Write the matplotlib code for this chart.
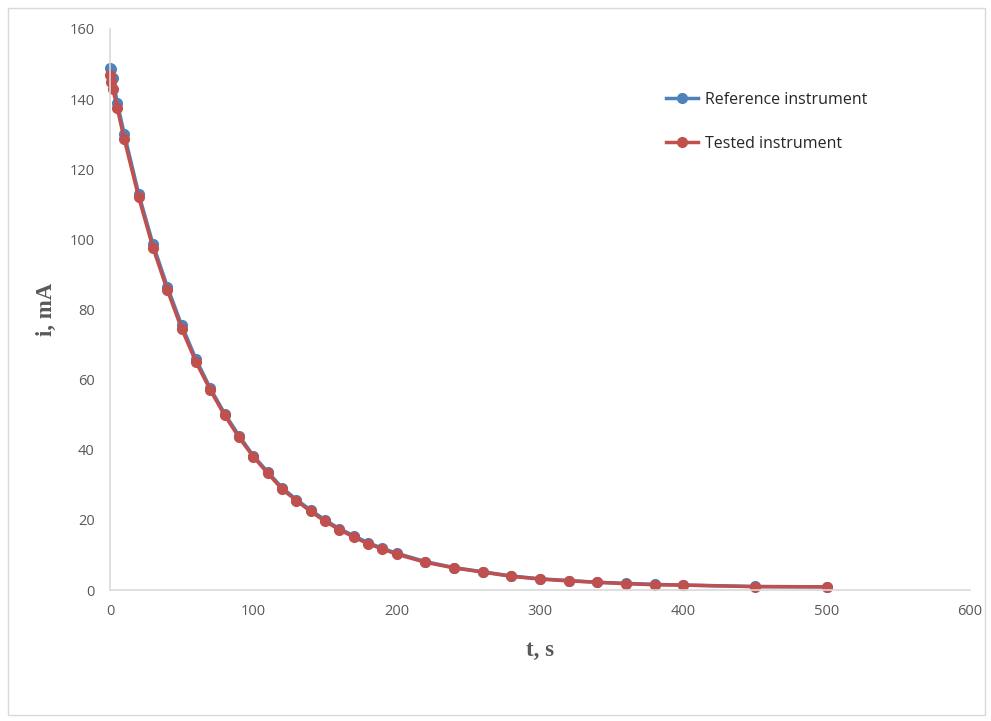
import matplotlib
matplotlib.use("Agg")
import matplotlib.pyplot as plt
from matplotlib.patches import Rectangle

t = [0, 1, 2, 5, 10, 20, 30, 40, 50, 60, 70, 80, 90, 100, 110, 120, 130, 140, 150,
     160, 170, 180, 190, 200, 220, 240, 260, 280, 300, 320, 340, 360, 380, 400, 450, 500]
ref_i = [148.9, 148.5, 146.0, 139.0, 130.0, 113.0, 98.6, 86.5, 75.5, 65.8, 57.5, 50.3,
         44.0, 38.3, 33.7, 29.2, 25.8, 22.8, 20.0, 17.5, 15.5, 13.5, 11.9, 10.5,
         8.1, 6.4, 5.2, 4.0, 3.2, 2.7, 2.2, 1.9, 1.6, 1.4, 1.0, 0.9]
test_i = [146.9, 145.0, 143.0, 137.5, 128.5, 112.0, 97.6, 85.5, 74.5, 65.0, 57.0, 49.8,
          43.5, 38.0, 33.3, 28.8, 25.5, 22.4, 19.6, 17.2, 15.1, 13.2, 11.7, 10.2,
          7.9, 6.3, 5.1, 3.9, 3.1, 2.6, 2.2, 1.8, 1.5, 1.4, 0.95, 0.9]
labels = ["Reference instrument", "Tested instrument"]
xticks = [0, 100, 200, 300, 400, 500, 600]
yticks = [0, 20, 40, 60, 80, 100, 120, 140, 160]

W, H = 991, 721
fig = plt.figure(figsize=(W / 100, H / 100), dpi=100)
fig.patches.append(Rectangle((8 / W, 6 / H), 977 / W, 707 / H, transform=fig.transFigure,
                             fill=False, edgecolor="#d9d9d9", linewidth=1))
ax = fig.add_axes([110 / W, 131 / H, 860 / W, 561 / H])

ax.plot(t, ref_i, color="#4f81bd", linewidth=2.5, marker="o", markersize=7,
        label=labels[0], clip_on=False)
ax.plot(t, test_i, color="#c0504d", linewidth=2.5, marker="o", markersize=7,
        label=labels[1], clip_on=False)

ax.set_xlim(0, 600)
ax.set_ylim(0, 160)
ax.set_xticks(xticks)
ax.set_yticks(yticks)
tick_font = dict(family="Open Sans", size=10.5, color="#595959")
ax.set_xticklabels([str(v) for v in xticks], **tick_font)
ax.set_yticklabels([str(v) for v in yticks], **tick_font)
ax.tick_params(axis="x", length=0, pad=10)
ax.tick_params(axis="y", length=0, pad=11)
for s in ["top", "right"]:
    ax.spines[s].set_visible(False)
for s in ["left", "bottom"]:
    ax.spines[s].set_color("#d9d9d9")
    ax.spines[s].set_linewidth(1.2)

lab_font = dict(family="Liberation Serif", size=16.5, weight="bold", color="#595959")
ax.set_xlabel("t, s", labelpad=15, **lab_font)
ax.set_ylabel("i, mA", labelpad=9, **lab_font)

leg = ax.legend(loc="upper left", bbox_to_anchor=(0.63, 0.914), frameon=False,
                prop=dict(family="Open Sans", size=11.5), labelspacing=1.75,
                handlelength=2.0, handletextpad=0.4)
for txt in leg.get_texts():
    txt.set_color("#262626")

fig.savefig("out.png", dpi=100)
